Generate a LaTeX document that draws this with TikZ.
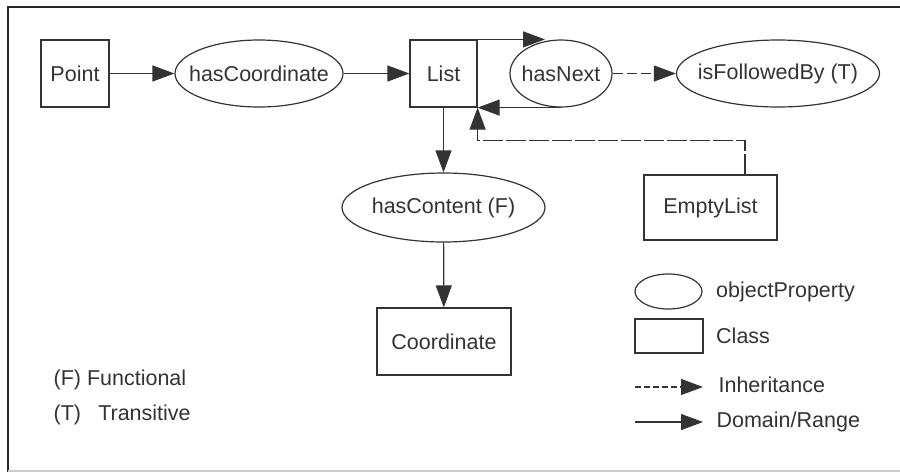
\documentclass[tikz,border=0pt]{standalone}
\usepackage{fontspec}
\setmainfont{Liberation Sans}
\usetikzlibrary{shapes.geometric,arrows.meta,positioning}
\newcommand{\pname}[1]{\makebox[0pt]{#1}}

\begin{document}
\begin{tikzpicture}[x=1pt, y=-1pt, line width=1.2pt, draw=black!80,
  font=\fontsize{21.5}{26}\selectfont,
  cls/.style={draw=black!80, rectangle, inner sep=0pt, text=black!80},
  prop/.style={draw=black!80, ellipse, inner sep=0pt, text=black!80},
  txt/.style={inner sep=0pt, text=black!80},
  dom/.style={draw=black!80, -{Triangle[length=22pt,width=16pt]}},
  inh/.style={dom, dash pattern=on 10pt off 4pt}]

  \useasboundingbox (0,0) rectangle (900,472);
  \draw[black!85] (900,7) -- (8,7) -- (8,472);
  \draw[black!20] (8,471) -- (900,471);

  \node[cls, minimum width=68pt, minimum height=67pt] (point) at (75,73.5) {Point};
  \node[prop, minimum width=168pt, minimum height=67pt] (hascoord) at (259,73.5) {\pname{hasCoordinate}};
  \node[cls, minimum width=67pt, minimum height=67pt] (list) at (443.5,73.5) {List};
  \node[prop, minimum width=102pt, minimum height=67pt] (hasnext) at (561,73.5) {\pname{hasNext}};
  \node[prop, minimum width=203pt, minimum height=67pt] (followed) at (778,73.5) {\pname{isFollowedBy (T)}};
  \node[prop, minimum width=203pt, minimum height=69pt] (content) at (443.5,207.5) {\pname{hasContent (F)}};
  \node[cls, minimum width=134pt, minimum height=67pt] (coord) at (444,341.5) {Coordinate};
  \node[cls, minimum width=133pt, minimum height=65pt] (empty) at (710.5,207.5) {EmptyList};

  \draw[dom] (point) -- (hascoord);
  \draw[dom] (hascoord) -- (list);
  \draw[dom, shorten >=16pt] (list.north east) -- (hasnext.north); %% List->hasNext
  \draw[dom] (hasnext.south) -- (list.south east); %% hasNext->List
  \draw[inh] (hasnext) -- (followed);
  \draw[dom] (list) -- (content);
  \draw[dom] (content) -- (coord);
  \draw[inh, dash pattern=on 20pt off 3pt] ([xshift=34.5pt]empty.north) -- ++(0,-34) -| (list.south east); %% EmptyList->List

  % legend
  \node[prop, minimum width=67pt, minimum height=35pt] (lprop) at (668.5,291.5) {};
  \node[txt, right=13pt of lprop] (lproptxt) {objectProperty};
  \node[cls, minimum width=68pt, minimum height=34pt] (lcls) at (669,336) {};
  \node[txt, right=12pt of lcls] (lclstxt) {Class};
  \coordinate (linh1) at (635,387);
  \coordinate (linh2) at (703,387);
  \draw[dom, dash pattern=on 6pt off 3pt] (linh1) -- (linh2);
  \node[txt, right=15pt of linh2, yshift=2pt] (linhtxt) {Inheritance};
  \coordinate (ldom1) at (635,422);
  \coordinate (ldom2) at (703,422);
  \draw[dom] (ldom1) -- (ldom2);
  \node[txt, right=13pt of ldom2] (ldomtxt) {Domain/Range};

  \node[txt, anchor=west] (fnote) at (53,380) {(F) Functional};
  \node[txt, anchor=west] (tnote) at (53,415) {(T)\hspace{0.8em}Transitive};
\end{tikzpicture}
\end{document}
